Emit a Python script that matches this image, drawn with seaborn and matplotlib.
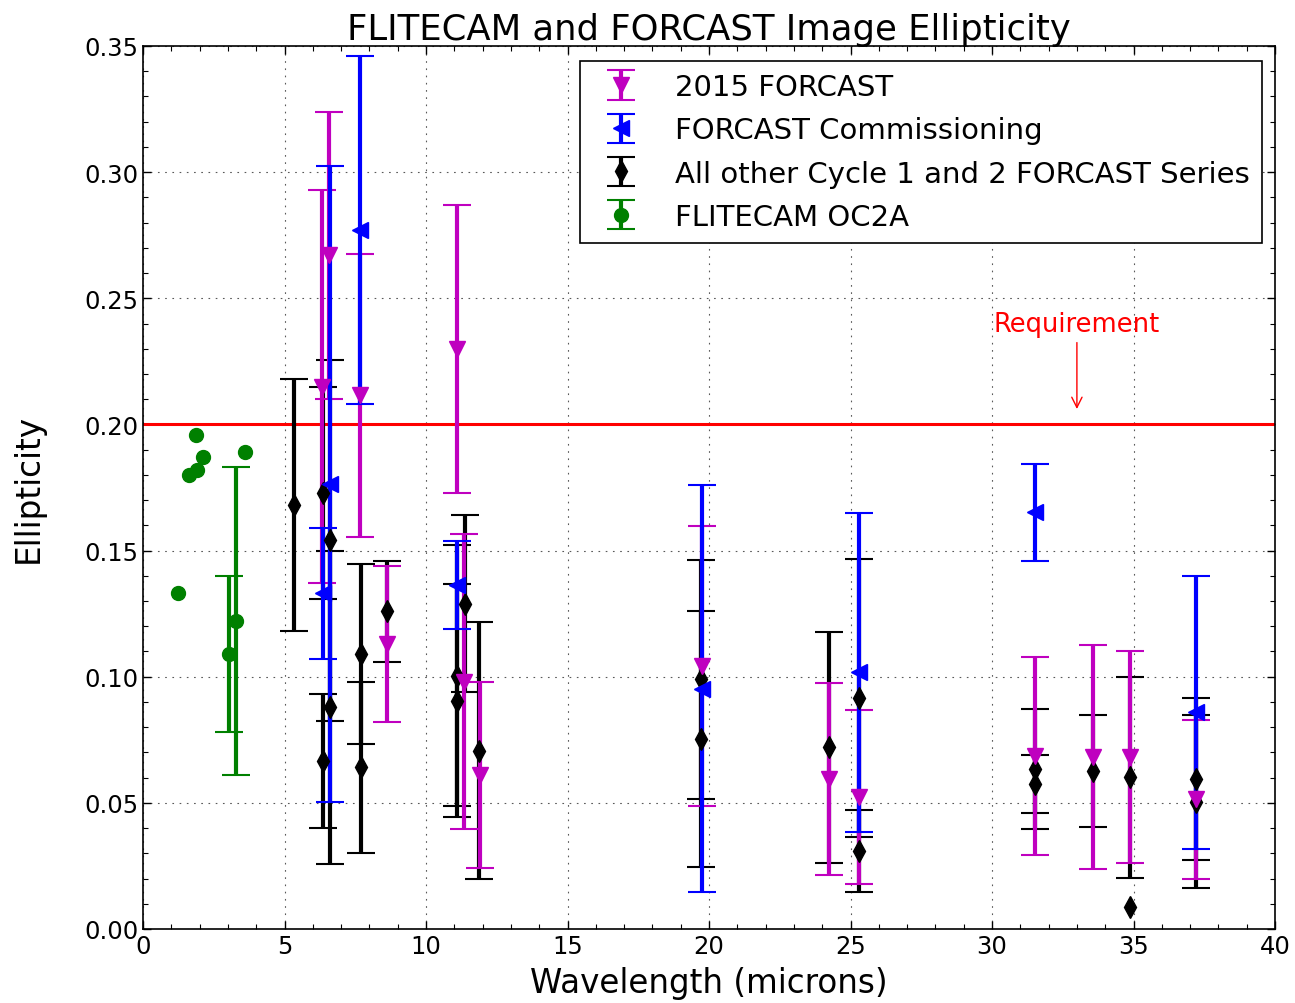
import numpy as np
import matplotlib
matplotlib.use("Agg")
import matplotlib.pyplot as plt
from matplotlib.ticker import MultipleLocator, FormatStrFormatter
import seaborn as sns

# ---------------- data ----------------
nan = np.nan

mag_x = [6.33, 6.58, 7.67, 8.61, 11.08, 11.35, 11.90, 19.74, 24.25, 25.30, 31.52, 33.58, 34.88, 37.20]
mag_y = [0.215, 0.267, 0.2115, 0.113, 0.230, 0.098, 0.061, 0.1044, 0.0595, 0.0522, 0.0687, 0.0681, 0.068, 0.0515]
mag_e = [0.078, 0.057, 0.056, 0.031, 0.057, 0.0585, 0.037, 0.0555, 0.038, 0.0345, 0.0393, 0.0444, 0.042, 0.0315]

blu_x = [6.37, 6.60, 7.67, 11.10, 19.74, 25.30, 31.52, 37.20]
blu_y = [0.133, 0.1765, 0.277, 0.1364, 0.0952, 0.1018, 0.1652, 0.0859]
blu_e = [0.026, 0.126, 0.069, 0.0175, 0.0806, 0.0632, 0.0192, 0.054]

blk_x = [5.34, 6.35, 6.35, 6.60, 6.60, 7.69, 7.69, 8.61, 11.10, 11.10, 11.38, 11.87,
         19.70, 19.70, 24.25, 25.30, 25.30, 31.52, 31.52, 33.58, 34.88, 34.88, 37.20, 37.20]
blk_y = [0.168, 0.173, 0.0667, 0.154, 0.0879, 0.109, 0.0641, 0.126, 0.1004, 0.0905, 0.129, 0.0707,
         0.0989, 0.0753, 0.072, 0.0915, 0.031, 0.0634, 0.0575, 0.0628, 0.0601, 0.0086, 0.0595, 0.0505]
blk_e = [0.050, 0.042, 0.0265, 0.0715, 0.062, 0.0355, 0.034, 0.020, 0.0517, 0.0463, 0.035, 0.051,
         0.0475, 0.0507, 0.0458, 0.055, 0.0163, 0.0237, 0.0114, 0.0222, 0.0397, nan, 0.032, 0.0343]

grn_x = [1.24, 1.63, 1.90, 1.87, 2.12, 3.04, 3.29, 3.60]
grn_y = [0.133, 0.180, 0.182, 0.196, 0.187, 0.109, 0.122, 0.189]
grn_e = [nan, nan, nan, nan, nan, 0.031, 0.061, nan]

series_labels = ["2015 FORCAST", "FORCAST Commissioning",
                 "All other Cycle 1 and 2 FORCAST Series", "FLITECAM OC2A"]

requirement = 0.20
x_ticks = [0, 5, 10, 15, 20, 25, 30, 35, 40]
y_ticks = [0.00, 0.05, 0.10, 0.15, 0.20, 0.25, 0.30, 0.35]

# ---------------- style ----------------
sns.set_style("ticks")
plt.rcParams["font.family"] = ["DejaVu Sans"]
plt.rcParams["text.color"] = "black"
plt.rcParams["axes.labelcolor"] = "black"

fig = plt.figure(figsize=(12.95, 10.04), dpi=100)
ax = fig.add_axes([143 / 1295, 1 - 930 / 1004, (1275 - 143) / 1295, (930 - 47) / 1004])

eb_kw = dict(linestyle="none", elinewidth=3, capsize=10, capthick=1.5)

# bars: black lowest, magenta above, blue on top; markers always above bars
ax.errorbar(mag_x, mag_y, yerr=mag_e, fmt="v", color="m", markersize=11,
            label=series_labels[0], zorder=2.01, **eb_kw)
ax.errorbar(blu_x, blu_y, yerr=blu_e, fmt="<", color="b", markersize=11,
            label=series_labels[1], zorder=2.02, **eb_kw)
ax.errorbar(blk_x, blk_y, yerr=blk_e, fmt="d", color="k", markersize=11,
            label=series_labels[2], zorder=2.0, **eb_kw)
ax.errorbar(grn_x, grn_y, yerr=grn_e, fmt="o", color="g", markersize=10,
            label=series_labels[3], zorder=2.0, **eb_kw)

ax.axhline(requirement, color="red", lw=2.2, zorder=1.5)
ax.annotate("Requirement", xy=(33.0, 0.205), xytext=(33.0, 0.240),
            ha="center", va="center", color="red", fontsize=18.5,
            arrowprops=dict(arrowstyle="->", color="red", lw=1.0))

ax.set_xlim(0, 40)
ax.set_ylim(0, 0.35)
ax.set_xticks(x_ticks)
ax.set_yticks(y_ticks)
ax.yaxis.set_major_formatter(FormatStrFormatter("%.2f"))
ax.xaxis.set_minor_locator(MultipleLocator(1))
ax.yaxis.set_minor_locator(MultipleLocator(0.01))
ax.tick_params(which="both", direction="in", top=True, right=True, labelsize=17.5,
               colors="black", labelcolor="black")
ax.tick_params(which="major", length=6, width=1)
ax.tick_params(which="minor", length=3.5, width=0.8)
ax.grid(True, which="major", linestyle=(0, (1.5, 5)), color="0.35", linewidth=0.8)
for s in ax.spines.values():
    s.set_color("black")
    s.set_linewidth(1.2)

ax.set_title("FLITECAM and FORCAST Image Ellipticity", fontsize=25.5, pad=5, color="black")
ax.set_xlabel("Wavelength (microns)", fontsize=23.5, labelpad=6)
ax.set_ylabel("Ellipticity", fontsize=23.5, labelpad=28)

leg = ax.legend(loc="upper right", bbox_to_anchor=((1262 - 143) / 1132, (930 - 62) / 883),
                borderaxespad=0, numpoints=1, fontsize=21, frameon=True, fancybox=False,
                framealpha=1, edgecolor="black", handlelength=2.0, handletextpad=0.85,
                labelspacing=0.52, borderpad=0.42)
leg.get_frame().set_linewidth(1.2)
for t in leg.get_texts():
    t.set_color("black")

fig.savefig("out.png", dpi=100)
